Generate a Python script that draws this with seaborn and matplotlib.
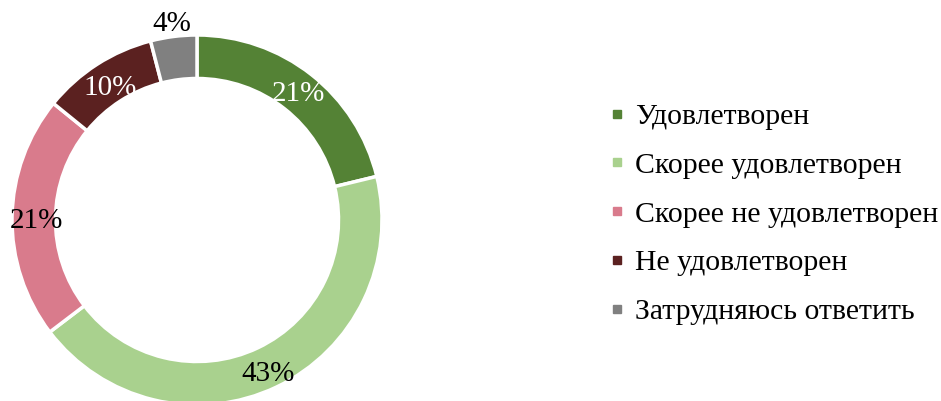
import numpy as np
import matplotlib
matplotlib.use("Agg")
import matplotlib.pyplot as plt
from matplotlib.lines import Line2D
import seaborn as sns

categories = ["Удовлетворен", "Скорее удовлетворен", "Скорее не удовлетворен",
              "Не удовлетворен", "Затрудняюсь ответить"]
values = [21, 43, 21, 10, 4]
labels = ["21%", "43%", "21%", "10%", "4%"]
colors_hex = ["#548235", "#A9D18E", "#D97B8C", "#5B2120", "#808080"]
label_colors = ["white", "black", "black", "white", "black"]
label_radius = [0.89, 0.90, 0.87, 0.87, 1.09]

sns.set_theme(style="white")
plt.rcParams["font.family"] = ["Liberation Serif", "DejaVu Serif"]
plt.rcParams["text.color"] = "black"
palette = sns.color_palette(colors_hex)

fig = plt.figure(figsize=(9.41, 4.01), dpi=100)
ax = fig.add_axes([12 / 941, -4 / 401, 370 / 941, 370 / 401])
wedges, _ = ax.pie(values, colors=palette, startangle=90, counterclock=False,
                   radius=1.0, wedgeprops=dict(width=0.235, edgecolor="white", linewidth=2.5))
for w, lab, col, r in zip(wedges, labels, label_colors, label_radius):
    ang = np.deg2rad((w.theta1 + w.theta2) / 2)
    ax.text(r * np.cos(ang), r * np.sin(ang) - 0.02, lab, ha="center", va="center",
            fontsize=21, color=col, clip_on=False)
ax.set_xlim(-1, 1)
ax.set_ylim(-1, 1)
ax.set_aspect("equal")
ax.axis("off")
for w in wedges:
    w.set_clip_on(False)

handles = [Line2D([0], [0], marker="s", linestyle="none", markersize=6.2,
                  markerfacecolor=c, markeredgecolor=c) for c in palette]
fig.legend(handles, categories, loc="center left", bbox_to_anchor=(0.651, 0.466),
           frameon=False, fontsize=21.4, labelspacing=0.74, handlelength=0.3,
           handletextpad=0.44, borderaxespad=0, borderpad=0, labelcolor="black")

fig.savefig("out.png", dpi=100)
